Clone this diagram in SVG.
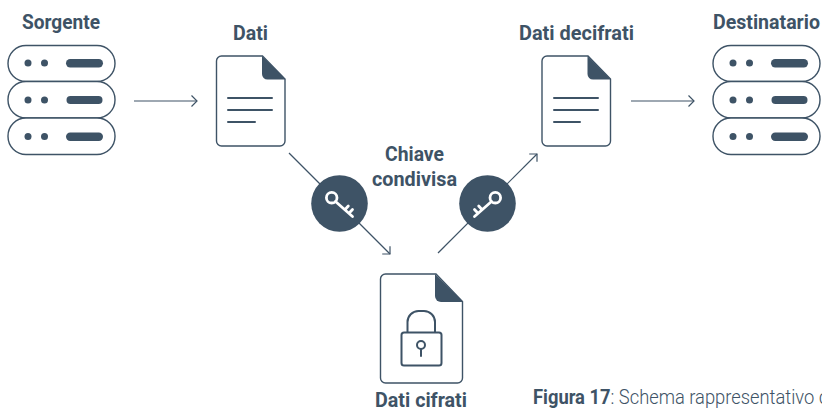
<svg xmlns="http://www.w3.org/2000/svg" width="822" height="412" viewBox="0 0 822 412">
<style>
.l{font-family:"Roboto","Liberation Sans",sans-serif;font-weight:700;font-size:21px;fill:#3e5366}
.r{font-family:"Roboto","Liberation Sans",sans-serif;font-weight:300;font-size:20px;fill:#3e5366}
.b{font-weight:700}
.o{fill:#fff;stroke:#3e5366;stroke-width:1.4}
.f{fill:#3e5366}
.t{fill:none;stroke:#3e5366;stroke-width:2;stroke-linecap:round}
.c{fill:none;stroke:#3e5366;stroke-width:1.2}
.k{fill:none;stroke:#fff;stroke-width:2.8;stroke-linecap:round}
</style>
<defs>
<marker id="a" markerUnits="userSpaceOnUse" markerWidth="12" markerHeight="14" refX="10" refY="7" orient="auto"><path d="M4.5 1.5L10 7L4.5 12.500" fill="none" stroke="#3e5366" stroke-width="1.200"/></marker>
<g id="srv">
<rect class="o" x="8" y="45.500" width="107" height="36" rx="18"/>
<circle class="f" cx="28" cy="63" r="3.500"/><circle class="f" cx="44.500" cy="63" r="3.500"/><rect class="f" x="66" y="59" width="37" height="8.500" rx="4.200"/>
<rect class="o" x="8" y="81.500" width="107" height="36.500" rx="18"/>
<circle class="f" cx="28" cy="100" r="3.500"/><circle class="f" cx="44.500" cy="100" r="3.500"/><rect class="f" x="66.500" y="96" width="36" height="8" rx="4"/>
<rect class="o" x="8" y="118" width="107" height="36.500" rx="18"/>
<circle class="f" cx="28" cy="136.500" r="3.500"/><circle class="f" cx="44.500" cy="136.500" r="3.500"/><rect class="f" x="66" y="132.500" width="37" height="8.500" rx="4.200"/>
</g>
<g id="doc">
<path class="o" d="M0 5a5 5 0 0 1 5-5H46L68.500 23V85a5 5 0 0 1-5 5H5a5 5 0 0 1-5-5Z"/>
<path class="f" d="M45.500 0L69 23.500H51a5.500 5.500 0 0 1-5.500-5.500Z"/>
</g>
</defs>
<g id="connectors">
<path class="c" marker-end="url(#a)" d="M134 101H197"/>
<path class="c" marker-end="url(#a)" d="M631 101H694"/>
<path class="c" marker-end="url(#a)" d="M289 153L390 254"/>
<path class="c" marker-end="url(#a)" d="M438 253L537 154"/>
</g>
<g id="sorgente"><use href="#srv"/><text class="l" x="22" y="29" textLength="78" lengthAdjust="spacingAndGlyphs">Sorgente</text></g>
<g id="dati"><use href="#doc" x="216.500" y="56"/>
<path class="t" d="M228 98H272M228 110H272M228 122H255"/>
<text class="l" x="233" y="40" textLength="35" lengthAdjust="spacingAndGlyphs">Dati</text></g>
<g id="dati-decifrati"><use href="#doc" x="542" y="56"/>
<path class="t" d="M554 98H598M554 110H598M554 122H580"/>
<text class="l" x="519" y="40" textLength="115" lengthAdjust="spacingAndGlyphs">Dati decifrati</text></g>
<g id="destinatario"><use href="#srv" x="705"/><text class="l" x="713" y="29" textLength="107" lengthAdjust="spacingAndGlyphs">Destinatario</text></g>
<g id="chiave-condivisa">
<text class="l" x="385" y="161" textLength="59" lengthAdjust="spacingAndGlyphs">Chiave</text>
<text class="l" x="372" y="186" textLength="85" lengthAdjust="spacingAndGlyphs">condivisa</text>
</g>
<g id="key-left"><circle class="f" cx="339.500" cy="203.500" r="28.300"/>
<circle class="k" cx="331.700" cy="197.700" r="5.300"/>
<path class="k" d="M335.500 201.500L352.500 216.500M349 213.300L352.500 209.500M345.300 209.300L348.300 206"/></g>
<g id="key-right"><circle class="f" cx="487.500" cy="203.500" r="28.300"/>
<circle class="k" cx="495.300" cy="197.700" r="5.300"/>
<path class="k" d="M491.500 201.500L474.500 216.500M478 213.300L474.500 209.500M481.700 209.300L478.700 206"/></g>
<g id="dati-cifrati">
<path class="o" d="M380.500 279a5 5 0 0 1 5-5H436L462.500 301.500V378a5 5 0 0 1-5 5H385.500a5 5 0 0 1-5-5Z"/>
<path class="f" d="M435 274L463 302H441a6 6 0 0 1-6-6Z"/>
<rect x="401.500" y="332.500" width="40" height="33" rx="2.500" fill="none" stroke="#3e5366" stroke-width="2"/>
<path d="M407.500 332.500V322a11 11 0 0 1 11-11h5.500a11 11 0 0 1 11 11v10.500" fill="none" stroke="#3e5366" stroke-width="2"/>
<circle cx="421" cy="345" r="4" fill="none" stroke="#3e5366" stroke-width="2"/><path class="t" d="M421 349V356"/>
<text class="l" x="375" y="407" textLength="92" lengthAdjust="spacingAndGlyphs">Dati cifrati</text></g>
<g id="caption"><text class="r" x="533" y="404" textLength="296" lengthAdjust="spacingAndGlyphs"><tspan class="b">Figura 17</tspan>: Schema rappresentativo d</text></g>
</svg>
